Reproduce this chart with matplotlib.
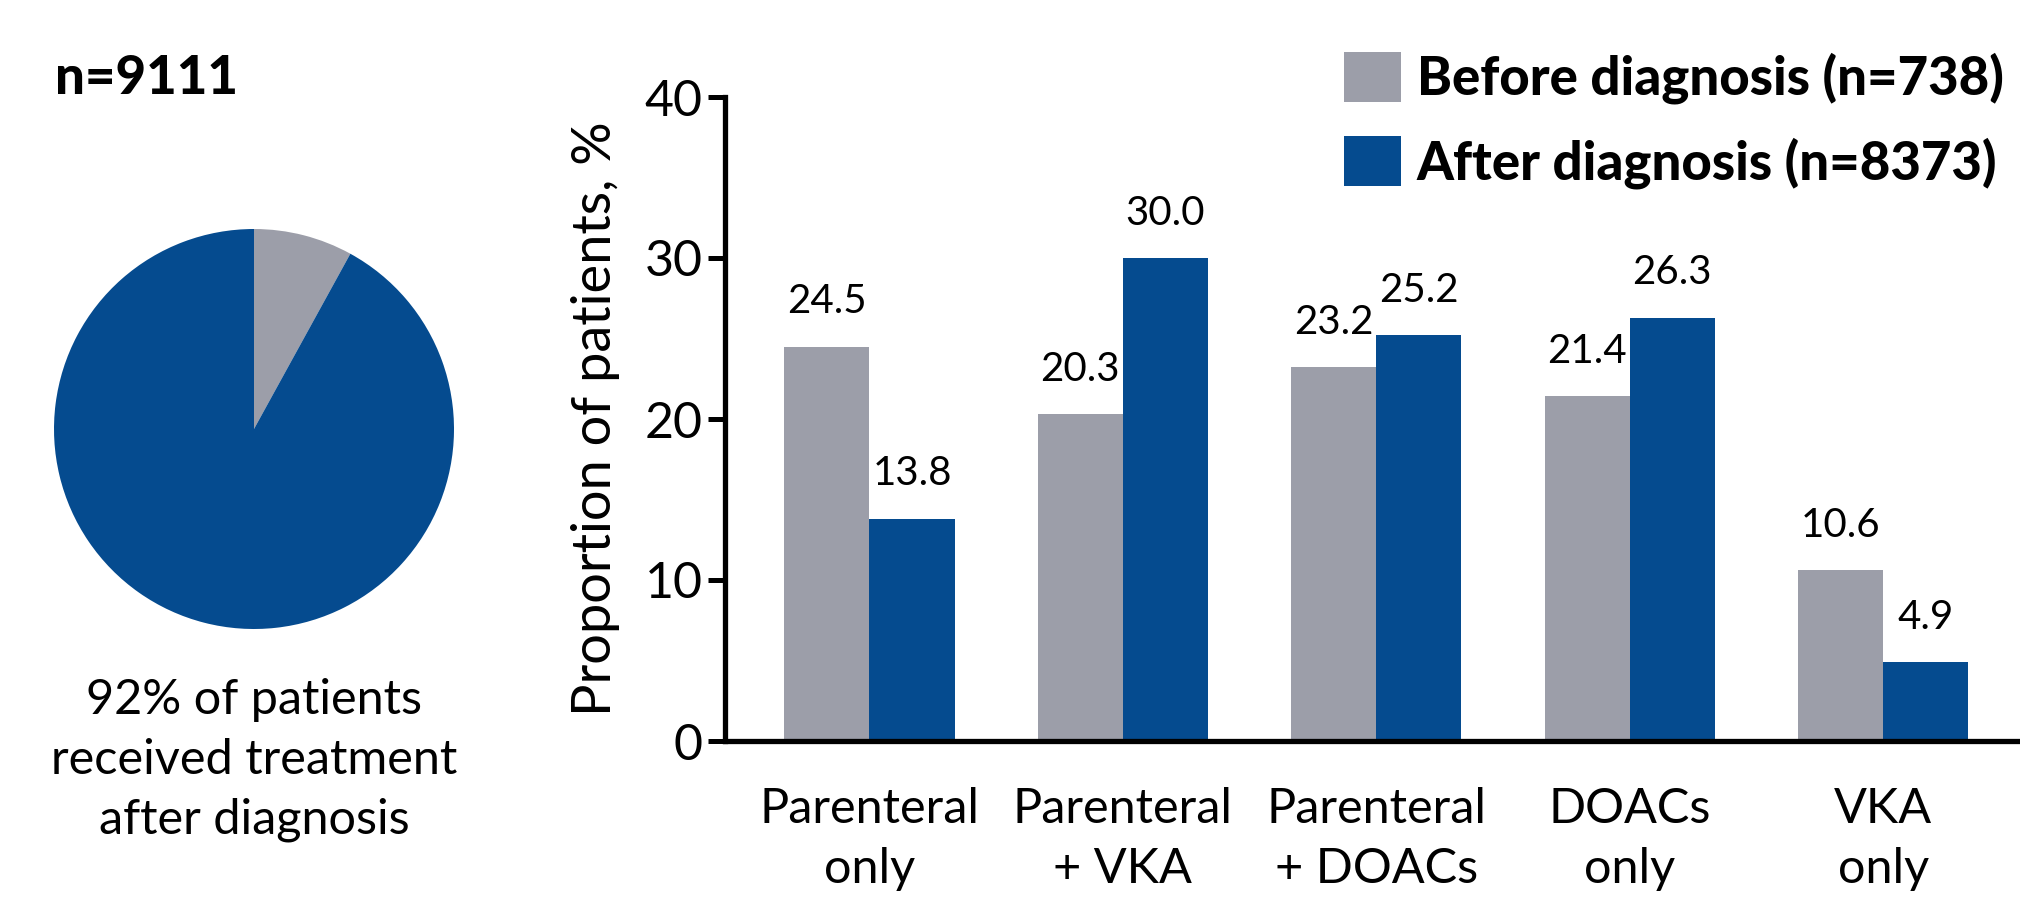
import numpy as np
import matplotlib
matplotlib.use("Agg")
import matplotlib.pyplot as plt
from matplotlib import font_manager as fm
from matplotlib.patches import Patch

# data
categories = ["Parenteral\nonly", "Parenteral\n+ VKA", "Parenteral\n+ DOACs", "DOACs\nonly", "VKA\nonly"]
before_vals = [24.5, 20.3, 23.2, 21.4, 10.6]
after_vals = [13.8, 30.0, 25.2, 26.3, 4.9]
legend_labels = ["Before diagnosis (n=738)", "After diagnosis (n=8373)"]
pie_vals = [8, 92]
pie_caption = "92% of patients\nreceived treatment\nafter diagnosis"
total_label = "n=9111"
yticks = [0, 10, 20, 30, 40]

GREY = "#9C9EA9"
BLUE = "#054B8F"

installed = {f.name for f in fm.fontManager.ttflist}
main_font = "Lato" if "Lato" in installed else "DejaVu Sans"
narrow_font = "Liberation Sans Narrow" if "Liberation Sans Narrow" in installed else main_font
plt.rcParams["font.family"] = [main_font, "DejaVu Sans"]

W, H = 2020, 898
fig = plt.figure(figsize=(W / 100, H / 100), dpi=100)

# ---- pie on the left ----
pax = fig.add_axes([54 / W, 1 - 629 / H, 400 / W, 400 / H])
pax.pie(pie_vals, colors=[GREY, BLUE], startangle=90, counterclock=False,
        wedgeprops=dict(linewidth=0))
pax.set_xlim(-1, 1)
pax.set_ylim(-1, 1)
pax.set_aspect("equal")

fig.text(55 / W, 1 - 94 / H, total_label, fontsize=38, fontweight="black",
         ha="left", va="baseline")
fig.text(254 / W, 1 - 760 / H, pie_caption, fontsize=35, ha="center",
         va="center", linespacing=1.44)

# ---- grouped bars ----
ax = fig.add_axes([725 / W, 1 - 741 / H, (W - 725) / W, 644 / H])
x = np.arange(len(categories))
bw = 0.336
b1 = ax.bar(x - bw / 2, before_vals, bw, color=GREY, linewidth=0)
b2 = ax.bar(x + bw / 2, after_vals, bw, color=BLUE, linewidth=0)

for bars, vals in ((b1, before_vals), (b2, after_vals)):
    for r, v in zip(bars, vals):
        ax.annotate(f"{v:.1f}", (r.get_x() + r.get_width() / 2, v),
                    xytext=(0, 19), textcoords="offset points",
                    ha="center", va="bottom", fontsize=29)

ax.set_xlim(-0.57, 4.54)
ax.set_ylim(0, 40)
ax.set_yticks(yticks)
ax.set_xticks(x)
ax.set_xticklabels(categories, fontsize=35, family=[narrow_font, "DejaVu Sans"],
                   linespacing=1.44)
ax.tick_params(axis="x", length=0, pad=33)
ax.tick_params(axis="y", length=12, width=3.6, labelsize=36, pad=4)
for s in ("top", "right"):
    ax.spines[s].set_visible(False)
for s in ("left", "bottom"):
    ax.spines[s].set_linewidth(3.8)
ax.set_ylabel("Proportion of patients, %", fontsize=39, labelpad=18)

handles = [Patch(facecolor=GREY), Patch(facecolor=BLUE)]
fig.legend(handles, legend_labels, loc="upper left",
           bbox_to_anchor=(1344 / W, 1 - 52 / H), frameon=False,
           prop=dict(weight="black", size=38), handlelength=1.08,
           handleheight=1.08, handletextpad=0.3, labelspacing=0.6,
           borderaxespad=0, borderpad=0)

fig.savefig("out.png", dpi=100)
